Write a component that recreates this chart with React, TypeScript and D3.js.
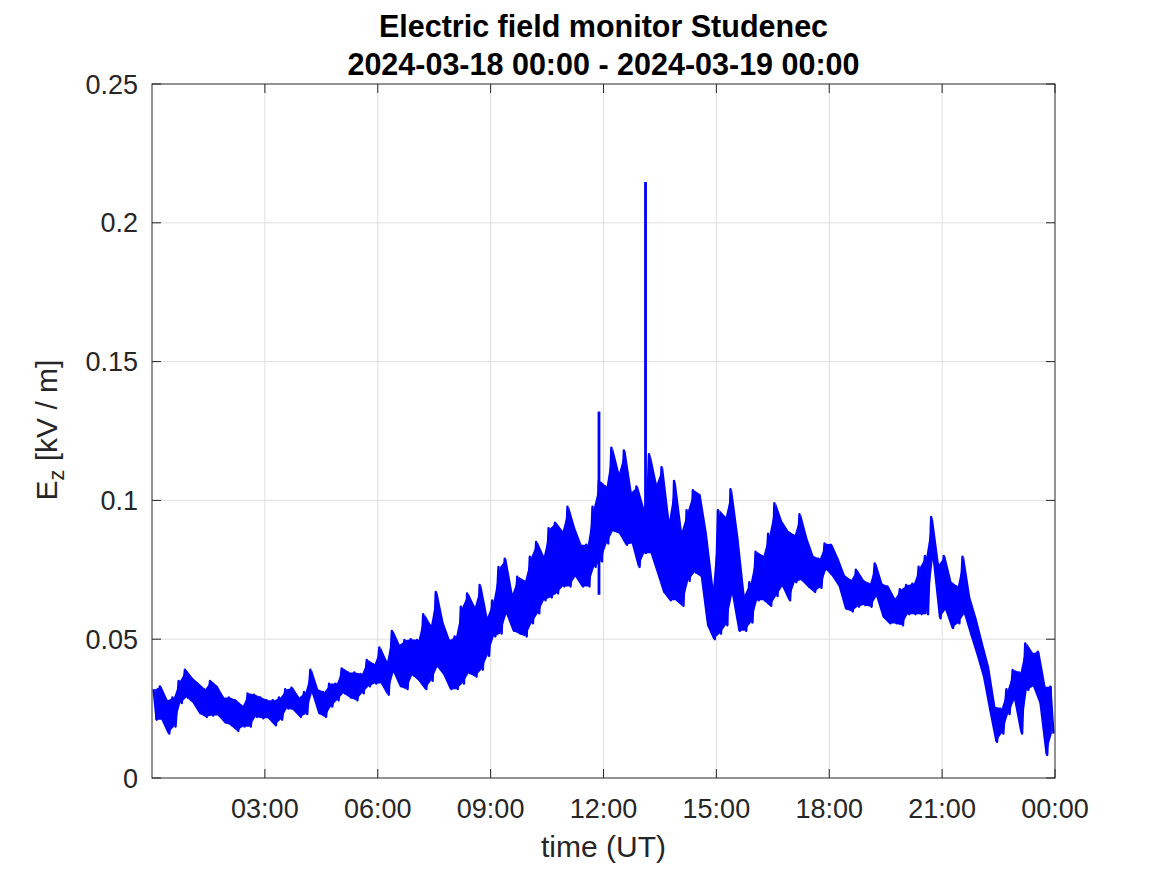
import React from 'react';
import * as d3 from 'd3';

const W = 1167;
const H = 875;

const yTickValues = [0, 0.05, 0.1, 0.15, 0.2, 0.25];
const yTickLabels = ['0', '0.05', '0.1', '0.15', '0.2', '0.25'];
const xTickHours = [3, 6, 9, 12, 15, 18, 21, 24];
const xTickLabels = ['03:00', '06:00', '09:00', '12:00', '15:00', '18:00', '21:00', '00:00'];

// 10-minute envelope of Ez [kV/m], 2024-03-18 00:00 .. 24:00
const intervalMinutes = 10;
const highValues = [
  0.032, 0.033, 0.028, 0.029, 0.035, 0.039, 0.036, 0.034, 0.032, 0.035, 0.033, 0.029,
  0.029, 0.028, 0.026, 0.0305, 0.030, 0.029, 0.028, 0.028, 0.029, 0.032, 0.0325, 0.029,
  0.031, 0.039, 0.032, 0.031, 0.034, 0.034, 0.0395, 0.038, 0.038, 0.0375, 0.0425, 0.041,
  0.047, 0.042, 0.053, 0.048, 0.0497, 0.050, 0.0497, 0.059, 0.055, 0.067, 0.056, 0.0497,
  0.051, 0.0617, 0.0665, 0.0617, 0.0695, 0.058, 0.064, 0.076, 0.079, 0.0665, 0.0725, 0.071,
  0.0797, 0.085, 0.080, 0.090, 0.092, 0.089, 0.0977, 0.090, 0.084, 0.084, 0.0977, 0.107,
  0.105, 0.119, 0.110, 0.118, 0.103, 0.105, 0.097, 0.1166, 0.106, 0.112, 0.093, 0.107,
  0.089, 0.0965, 0.1037, 0.102, 0.088, 0.069, 0.0965, 0.094, 0.104, 0.087, 0.066, 0.0705,
  0.0815, 0.080, 0.088, 0.099, 0.0925, 0.089, 0.0875, 0.095, 0.0865, 0.080, 0.079, 0.0845,
  0.084, 0.079, 0.073, 0.0713, 0.075, 0.0713, 0.070, 0.0773, 0.070, 0.069, 0.0647, 0.068,
  0.0695, 0.070, 0.0761, 0.080, 0.094, 0.077, 0.080, 0.0707, 0.069, 0.0797, 0.065, 0.0575,
  0.0485, 0.040, 0.0257, 0.025, 0.032, 0.0389, 0.038, 0.0485, 0.045, 0.0455, 0.0329, 0.0329,
];
const lowValues = [
  0.021, 0.021, 0.016, 0.0185, 0.027, 0.029, 0.027, 0.0233, 0.022, 0.0225, 0.0225, 0.020,
  0.019, 0.017, 0.0185, 0.0185, 0.022, 0.0215, 0.0215, 0.019, 0.021, 0.025, 0.0245, 0.022,
  0.023, 0.0305, 0.0233, 0.022, 0.0257, 0.028, 0.0305, 0.029, 0.028, 0.0305, 0.033, 0.034,
  0.034, 0.030, 0.038, 0.033, 0.032, 0.037, 0.035, 0.032, 0.035, 0.040, 0.037, 0.032,
  0.032, 0.034, 0.0377, 0.0365, 0.039, 0.044, 0.051, 0.052, 0.059, 0.053, 0.052, 0.051,
  0.0557, 0.0593, 0.064, 0.065, 0.0665, 0.069, 0.069, 0.0725, 0.069, 0.069, 0.076, 0.078,
  0.0845, 0.089, 0.088, 0.084, 0.0845, 0.076, 0.081, 0.081, 0.074, 0.067, 0.064, 0.064,
  0.062, 0.071, 0.074, 0.0725, 0.055, 0.050, 0.052, 0.055, 0.066, 0.053, 0.053, 0.056,
  0.064, 0.064, 0.062, 0.0655, 0.069, 0.064, 0.0705, 0.0713, 0.069, 0.067, 0.0685, 0.075,
  0.0725, 0.069, 0.061, 0.060, 0.0617, 0.0623, 0.0617, 0.0653, 0.058, 0.0557, 0.0557, 0.055,
  0.059, 0.059, 0.059, 0.059, 0.0785, 0.0575, 0.0605, 0.054, 0.0557, 0.059, 0.0515, 0.0443,
  0.0365, 0.0245, 0.013, 0.016, 0.023, 0.028, 0.016, 0.0317, 0.033, 0.027, 0.0083, 0.016,
];

// isolated spikes (hours, low, high)
const spikeHours = [11.88, 13.117];
const spikeLow = [0.066, 0.085];
const spikeHigh = [0.132, 0.2147];

const FONT = '"Liberation Sans", Arial, Helvetica, sans-serif';
const TXT = '#262626';

export default function App() {
  const left = 152, right = 1055, top = 84, bottom = 778;
  const x = d3.scaleLinear().domain([0, 24]).range([left, right]);
  const y = d3.scaleLinear().domain([0, 0.25]).range([bottom, top]);

  const pts: [number, number][] = [];
  highValues.forEach((h, i) => {
    const t0 = (i * intervalMinutes) / 60;
    pts.push([t0 + 2.5 / 60, h]);
    pts.push([t0 + 7.5 / 60, lowValues[i]]);
  });
  const line = d3.line<[number, number]>().x(d => x(d[0])).y(d => y(d[1]));
  const area = d3
    .area<number>()
    .x((_, i) => x((i * intervalMinutes + 5) / 60))
    .y0((_, i) => y(lowValues[i]))
    .y1(d => y(d));

  const tickLen = 9;
  const tickFs = 27;
  const labelFs = 30;
  const titleFs = 30.5;

  return (
    <svg
      width={W}
      height={H}
      style={{ position: 'absolute', left: 0, top: 0, background: '#fff' }}
      fontFamily={FONT}
    >
      <rect x={0} y={0} width={W} height={H} fill="#fff" />
      {/* grid */}
      <g stroke="#dfdfdf" strokeWidth={1}>
        {xTickHours.filter(h => h < 24).map(h => (
          <line key={'gx' + h} x1={x(h)} x2={x(h)} y1={top} y2={bottom} />
        ))}
        {yTickValues.filter(v => v > 0 && v < 0.25).map(v => (
          <line key={'gy' + v} x1={left} x2={right} y1={y(v)} y2={y(v)} />
        ))}
      </g>
      {/* data */}
      <path d={area(highValues) || ''} fill="#0000ff" stroke="none" />
      <path d={line(pts) || ''} fill="none" stroke="#0000ff" strokeWidth={2.4} strokeLinejoin="round" />
      {spikeHours.map((h, i) => (
        <line key={'sp' + i} x1={x(h)} x2={x(h)} y1={y(spikeLow[i])} y2={y(spikeHigh[i])} stroke="#0000ff" strokeWidth={2.8} />
      ))}
      {/* box */}
      <rect x={left} y={top} width={right - left} height={bottom - top} fill="none" stroke={TXT} strokeWidth={1} />
      <g stroke={TXT} strokeWidth={1}>
        {xTickHours.map(h => (
          <g key={'tx' + h}>
            <line x1={x(h)} x2={x(h)} y1={bottom} y2={bottom - tickLen} />
            <line x1={x(h)} x2={x(h)} y1={top} y2={top + tickLen} />
          </g>
        ))}
        {yTickValues.map(v => (
          <g key={'ty' + v}>
            <line x1={left} x2={left + tickLen} y1={y(v)} y2={y(v)} />
            <line x1={right} x2={right - tickLen} y1={y(v)} y2={y(v)} />
          </g>
        ))}
      </g>
      {/* tick labels */}
      <g fill={TXT} fontSize={tickFs}>
        {xTickHours.map((h, i) => (
          <text key={'lx' + h} x={x(h)} y={818} textAnchor="middle">{xTickLabels[i]}</text>
        ))}
        {yTickValues.map((v, i) => (
          <text key={'ly' + v} x={left - 14} y={y(v) + 9.5} textAnchor="end">{yTickLabels[i]}</text>
        ))}
      </g>
      {/* axis labels */}
      <text x={(left + right) / 2} y={857} textAnchor="middle" fontSize={labelFs} fill={TXT}>time (UT)</text>
      <text transform={`translate(57,430) rotate(-90)`} textAnchor="middle" fontSize={labelFs} fill={TXT}>
        E<tspan fontSize={labelFs * 0.72} dy={7}>z</tspan><tspan dy={-7}> [kV / m]</tspan>
      </text>
      {/* title */}
      <g fill="#000" fontWeight="bold" fontSize={titleFs} textAnchor="middle">
        <text x={(left + right) / 2} y={37}>Electric field monitor Studenec</text>
        <text x={(left + right) / 2} y={75}>2024-03-18 00:00 - 2024-03-19 00:00</text>
      </g>
    </svg>
  );
}
